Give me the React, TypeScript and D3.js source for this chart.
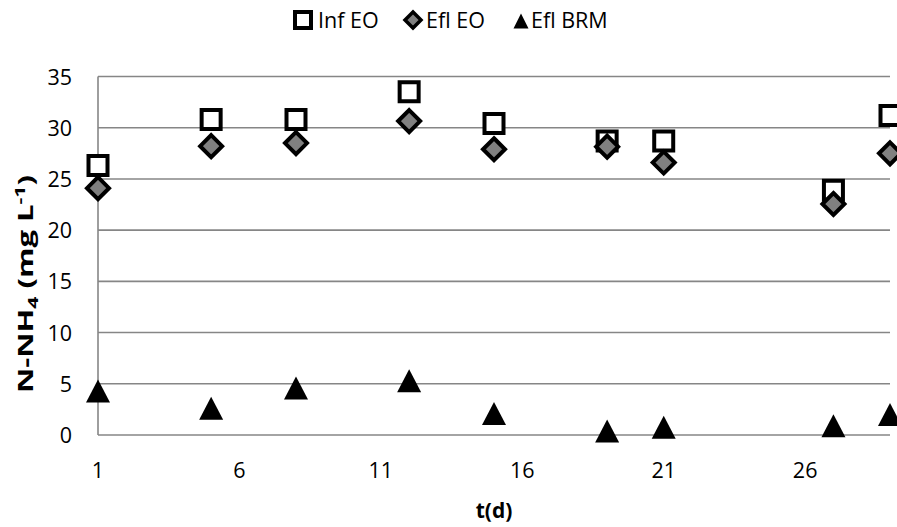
import React, { useLayoutEffect, useRef, useState } from "react";
import * as d3 from "d3";

const days = [1, 5, 8, 12, 15, 19, 21, 27, 29];
const infEO = [26.3, 30.8, 30.8, 33.5, 30.4, 28.7, 28.7, 23.9, 31.2];
const eflEO = [24.1, 28.2, 28.5, 30.65, 27.9, 28.15, 26.6, 22.55, 27.5];
const eflBRM = [4.3, 2.6, 4.6, 5.3, 2.1, 0.4, 0.75, 0.9, 2.0];
const xTicks = [1, 6, 11, 16, 21, 26];
const yTicks = [0, 5, 10, 15, 20, 25, 30, 35];
const legendLabels = ["Inf EO", "Efl EO", "Efl BRM"];

const W = 897;
const H = 527;
const FONT = "'Open Sans', 'Noto Sans', sans-serif";
const GRID = "#868686";

const x = d3.scaleLinear().domain([1, 29]).range([98, 890]);
const y = d3.scaleLinear().domain([0, 35]).range([435, 76.5]);

const sq = (cx: number, cy: number, s: number) =>
  `M${cx - s / 2},${cy - s / 2}h${s}v${s}h${-s}Z`;
const dia = (cx: number, cy: number, r: number) =>
  `M${cx},${cy - r}L${cx + r},${cy}L${cx},${cy + r}L${cx - r},${cy}Z`;
const tri = (cx: number, cy: number, w: number, h: number) =>
  `M${cx},${cy - h / 2}L${cx + w / 2},${cy + h / 2}L${cx - w / 2},${cy + h / 2}Z`;

export default function App() {
  const titleRef = useRef<SVGTextElement>(null);
  const [sx, setSx] = useState(1);
  useLayoutEffect(() => {
    if (titleRef.current) {
      const len = titleRef.current.getComputedTextLength();
      if (len > 0) setSx(218 / len);
    }
  }, []);

  return (
    <svg
      width={W}
      height={H}
      style={{ position: "absolute", left: 0, top: 0, background: "#fff" }}
      fontFamily={FONT}
    >
      <rect x={0} y={0} width={W} height={H} fill="#fff" />
      {/* gridlines */}
      {yTicks.map((t) => (
        <line
          key={"g" + t}
          x1={x(1)}
          x2={x(29)}
          y1={y(t)}
          y2={y(t)}
          stroke={GRID}
          strokeWidth={1.6}
        />
      ))}
      {/* y axis */}
      <line x1={x(1)} x2={x(1)} y1={y(35)} y2={y(0)} stroke={GRID} strokeWidth={1.6} />
      {/* y tick labels */}
      {yTicks.map((t) => (
        <text
          key={"yl" + t}
          x={72}
          y={y(t) + 8}
          textAnchor="end"
          fontSize={21.5}
          fill="#000"
        >
          {t}
        </text>
      ))}
      {/* x tick labels */}
      {xTicks.map((t) => (
        <text
          key={"xl" + t}
          x={x(t)}
          y={478}
          textAnchor="middle"
          fontSize={21.5}
          fill="#000"
        >
          {t}
        </text>
      ))}
      {/* x title */}
      <text x={494} y={518} textAnchor="middle" fontSize={21} fontWeight="bold" fill="#000">
        t(d)
      </text>
      {/* y title */}
      <g transform={`translate(33,284) rotate(-90) scale(${sx},1)`}>
        <text ref={titleRef} x={0} y={0} textAnchor="middle" fontSize={22} fontWeight="bold" fill="#000">
          N-NH
          <tspan fontSize={15} dy={5}>4</tspan>
          <tspan dy={-5}> (mg L</tspan>
          <tspan fontSize={15} dy={-8}>-1</tspan>
          <tspan dy={8}>)</tspan>
        </text>
      </g>
      {/* series */}
      {days.map((d, i) => (
        <path
          key={"s" + i}
          d={sq(x(d), y(infEO[i]), 19)}
          fill="#fff"
          stroke="#000"
          strokeWidth={4}
        />
      ))}
      {days.map((d, i) => (
        <path
          key={"d" + i}
          d={dia(x(d), y(eflEO[i]), 11)}
          fill="#808080"
          stroke="#000"
          strokeWidth={4}
        />
      ))}
      {days.map((d, i) => (
        <path key={"t" + i} d={tri(x(d), y(eflBRM[i]), 24, 23)} fill="#000" />
      ))}
      {/* legend */}
      <path d={sq(303, 20, 16)} fill="#fff" stroke="#000" strokeWidth={4} />
      <text x={318} y={28} fontSize={21.5} fill="#000">
        {legendLabels[0]}
      </text>
      <path d={dia(413, 20, 8)} fill="#808080" stroke="#000" strokeWidth={3.5} />
      <text x={426} y={28} fontSize={21.5} fill="#000">
        {legendLabels[1]}
      </text>
      <path d={tri(521, 21, 15, 15)} fill="#000" />
      <text x={531} y={28} fontSize={21.5} fill="#000">
        {legendLabels[2]}
      </text>
    </svg>
  );
}
